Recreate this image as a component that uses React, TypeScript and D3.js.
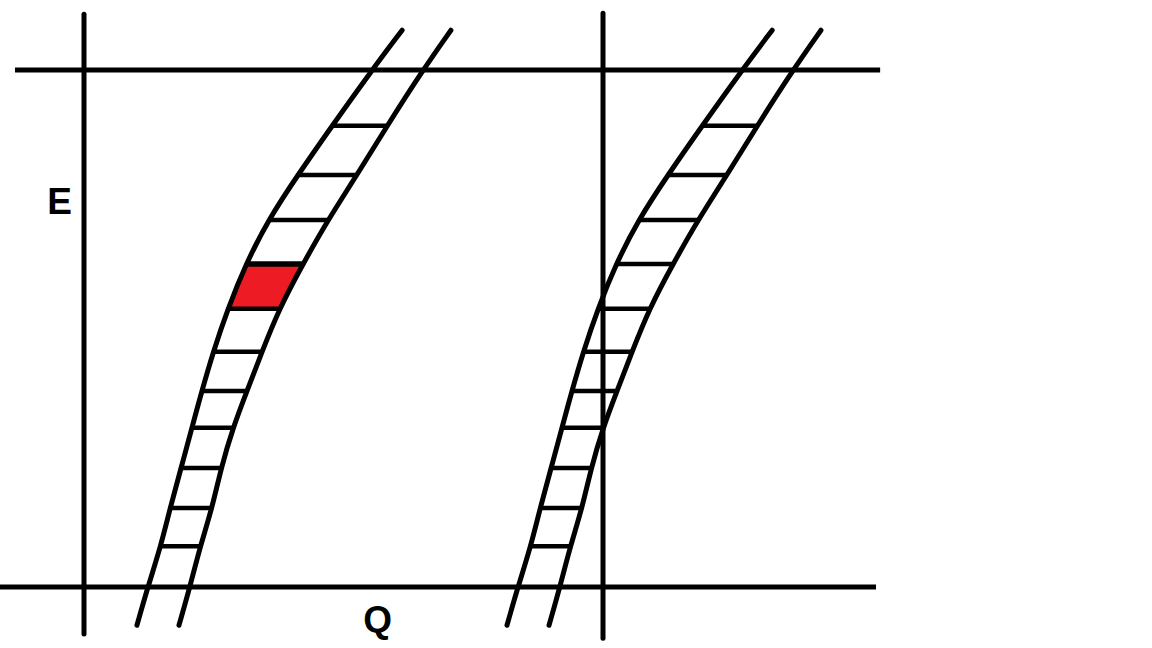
import React from 'react';
import * as d3 from 'd3';

// E levels (vertical, data units) where the rails are sampled; rungs sit on indices 2..12
const levels = [107.7, 100, 89.2, 79.7, 71.0, 62.5, 53.8, 45.5, 37.9, 30.8, 23.0, 15.3, 7.9, 0, -7.4];
// Q positions of the two rails of the first ladder at those levels
const leftRail = [61.3, 55.5, 47.8, 41.2, 35.5, 31.2, 27.7, 24.9, 22.7, 20.8, 18.7, 16.6, 14.8, 12.3, 10.2];
const rightRail = [70.7, 65.3, 58.4, 52.6, 47.0, 42.2, 37.6, 34.3, 31.4, 28.7, 26.4, 24.7, 22.4, 20.4, 18.3];
// the second ladder is the first one moved along Q
const ladderShifts = [0, 71.3];
const rungFrom = 2;
const rungTo = 12;
const redCell = 5; // cell between rung 5 and rung 6 of the first ladder

// axes of the diagram: vertical lines at Q, horizontal lines at E
const verticals = [
  { q: 0, e0: 110.8, e1: -9.1 },
  { q: 100, e0: 111.0, e1: -9.9 },
];
const horizontals = [
  { e: 100, q0: -13.3, q1: 153.4 },
  { e: 0, q0: -16.2, q1: 152.6 },
];
const labels = [
  { text: 'E', q: -7.1, e: 72.1 },
  { text: 'Q', q: 53.8, e: -8.7 },
];

const W = 1152;
const H = 648;

export default function App() {
  const x = d3.scaleLinear().domain([0, 100]).range([84, 603]);
  const y = d3.scaleLinear().domain([0, 100]).range([587, 70]);

  const rail = d3
    .line<[number, number]>()
    .x((d) => x(d[0]))
    .y((d) => y(d[1]))
    .curve(d3.curveBasis);

  const cell = d3
    .area<number>()
    .y((i) => y(levels[i]))
    .x0((i) => x(leftRail[i]))
    .x1((i) => x(rightRail[i]));

  const rungIdx = d3.range(rungFrom, rungTo + 1);
  const sw = 5;

  return (
    <svg width={W} height={H} style={{ position: 'absolute', left: 0, top: 0, background: '#fff' }}>
      <path d={cell([redCell, redCell + 1]) ?? ''} fill="#ED1C24" />

      {verticals.map((v, i) => (
        <line key={'v' + i} x1={x(v.q)} x2={x(v.q)} y1={y(v.e0)} y2={y(v.e1)} stroke="#000" strokeWidth={sw} strokeLinecap="round" />
      ))}
      {horizontals.map((h, i) => (
        <line key={'h' + i} x1={x(h.q0)} x2={x(h.q1)} y1={y(h.e)} y2={y(h.e)} stroke="#000" strokeWidth={sw} />
      ))}

      {ladderShifts.map((s, k) => (
        <g key={'l' + k}>
          {[leftRail, rightRail].map((r, j) => (
            <path
              key={j}
              d={rail(r.map((q, i) => [q + s, levels[i]] as [number, number])) ?? ''}
              fill="none"
              stroke="#000"
              strokeWidth={sw}
              strokeLinecap="round"
            />
          ))}
          {rungIdx.map((i) => (
            <line
              key={i}
              x1={x(leftRail[i] + s)}
              x2={x(rightRail[i] + s)}
              y1={y(levels[i])}
              y2={y(levels[i])}
              stroke="#000"
              strokeWidth={k === 0 && i === redCell ? 5.5 : 4.5}
            />
          ))}
        </g>
      ))}

      {labels.map((l) => (
        <text
          key={l.text}
          x={x(l.q)}
          y={y(l.e)}
          fontFamily="Liberation Sans, Arial, sans-serif"
          fontWeight="bold"
          fontSize={37}
          fill="#000"
        >
          {l.text}
        </text>
      ))}
    </svg>
  );
}
